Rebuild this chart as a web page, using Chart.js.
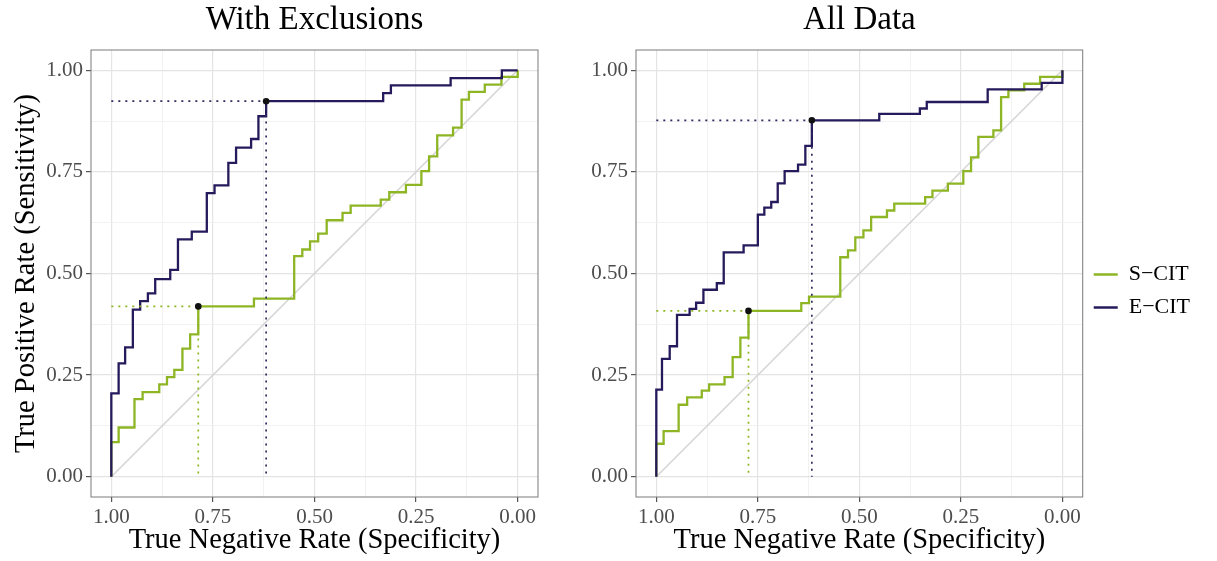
<!DOCTYPE html>
<html>
<head>
<meta charset="utf-8">
<script src="https://cdn.jsdelivr.net/npm/chart.js@4.4.1/dist/chart.umd.min.js"></script>
<style>
    body { margin: 0; background: #fff; width: 1217px; height: 561px; overflow: hidden; position: relative; }
    canvas { position: absolute; top: 0; }
</style>
</head>
<body>
<canvas id="leftChart" width="580" height="561" style="left:0"></canvas>
<canvas id="rightChart" width="652" height="561" style="left:565px"></canvas>
<script>
// ROC points (specificity, sensitivity)
const exclSpecS = [1, 0.982, 0.943, 0.923, 0.882, 0.863, 0.845, 0.825, 0.806, 0.786, 0.649, 0.550, 0.530, 0.511, 0.491, 0.470, 0.431, 0.411, 0.337, 0.316, 0.275, 0.237, 0.218, 0.198, 0.159, 0.138, 0.120, 0.081, 0.040, 0, 0];
const exclSensS = [0, 0.085, 0.121, 0.191, 0.208, 0.227, 0.245, 0.263, 0.315, 0.350, 0.419, 0.438, 0.543, 0.559, 0.579, 0.598, 0.631, 0.649, 0.667, 0.682, 0.700, 0.718, 0.752, 0.788, 0.840, 0.859, 0.928, 0.947, 0.965, 0.984, 1];
const exclSpecE = [1, 0.982, 0.966, 0.947, 0.929, 0.910, 0.892, 0.855, 0.836, 0.802, 0.765, 0.746, 0.712, 0.693, 0.656, 0.638, 0.619, 0.331, 0.312, 0.165, 0.039, 0];
const exclSensE = [0, 0.205, 0.279, 0.318, 0.411, 0.432, 0.451, 0.486, 0.509, 0.584, 0.603, 0.698, 0.717, 0.772, 0.810, 0.831, 0.887, 0.924, 0.944, 0.963, 0.981, 1];

const allSpecS = [1, 0.982, 0.945, 0.924, 0.888, 0.870, 0.832, 0.812, 0.793, 0.773, 0.643, 0.624, 0.547, 0.528, 0.510, 0.490, 0.471, 0.432, 0.414, 0.338, 0.320, 0.282, 0.244, 0.225, 0.207, 0.170, 0.151, 0.133, 0.094, 0.055, 0, 0];
const allSensS = [0, 0.081, 0.112, 0.177, 0.195, 0.212, 0.227, 0.245, 0.294, 0.342, 0.408, 0.427, 0.443, 0.540, 0.557, 0.589, 0.606, 0.639, 0.655, 0.672, 0.688, 0.704, 0.721, 0.752, 0.786, 0.836, 0.852, 0.934, 0.951, 0.967, 0.984, 1];
const allSpecE = [1, 0.986, 0.967, 0.949, 0.918, 0.902, 0.884, 0.851, 0.834, 0.785, 0.750, 0.734, 0.717, 0.701, 0.684, 0.651, 0.633, 0.617, 0.451, 0.351, 0.334, 0.184, 0.051, 0, 0];
const allSensE = [0, 0.214, 0.290, 0.321, 0.398, 0.413, 0.428, 0.460, 0.476, 0.552, 0.569, 0.645, 0.662, 0.676, 0.722, 0.752, 0.768, 0.814, 0.877, 0.893, 0.906, 0.922, 0.953, 0.969, 1];

// best thresholds [specificity, sensitivity]
const exclCutS = [0.786, 0.419];
const exclCutE = [0.619, 0.924];
const allCutS = [0.773, 0.408];
const allCutE = [0.617, 0.877];

const seriesNames = ['S\u2212CIT', 'E\u2212CIT'];
const tickValues = [1, 0.75, 0.5, 0.25, 0];
const tickLabels = ['1.00', '0.75', '0.50', '0.25', '0.00'];
const gridSteps = [0, 0.125, 0.25, 0.375, 0.5, 0.625, 0.75, 0.875, 1];

const GREEN = '#8db524';
const NAVY = '#261a5c';
const SERIF = '"Liberation Serif", "Times New Roman", serif';

function pts(xs, ys) {
    return xs.map(function (x, i) { return { x: x, y: ys[i] }; });
}
function cutLine(c) {
    return [{ x: 1, y: c[1] }, { x: c[0], y: c[1] }, { x: c[0], y: 0 }];
}
function isMajor(v) {
    return tickValues.indexOf(v) >= 0;
}

const panelBorder = {
    id: 'panelBorder',
    afterDatasetsDraw(chart) {
        const a = chart.chartArea, ctx = chart.ctx;
        ctx.save();
        ctx.strokeStyle = '#7a7a7a';
        ctx.lineWidth = 1;
        ctx.strokeRect(a.left, a.top, a.right - a.left, a.bottom - a.top);
        ctx.restore();
    }
};

function axis(extra) {
    const cfg = {
        type: 'linear',
        min: -0.05,
        max: 1.05,
        afterBuildTicks: function (s) { s.ticks = gridSteps.map(function (v) { return { value: v }; }); },
        border: { display: false },
        grid: {
            color: function (c) { return c.tick && isMajor(c.tick.value) ? '#e4e4e4' : '#efefef'; },
            lineWidth: function (c) { return c.tick && isMajor(c.tick.value) ? 1.2 : 0.8; },
            tickColor: function (c) { return c.tick && isMajor(c.tick.value) ? '#555' : 'rgba(0,0,0,0)'; },
            tickLength: 5
        },
        ticks: {
            autoSkip: false,
            maxRotation: 0,
            color: '#4d4d4d',
            font: { family: SERIF, size: 21 },
            callback: function (v) {
                const i = tickValues.indexOf(v);
                return i >= 0 ? tickLabels[i] : '';
            }
        }
    };
    return Object.assign(cfg, extra);
}

function makeChart(id, title, specS, sensS, specE, sensE, cutS, cutE, side) {
    const ctx = document.getElementById(id).getContext('2d');
    const left = side === 'left';
    return new Chart(ctx, {
        type: 'scatter',
        data: {
            datasets: [
                { label: 'diag', data: [{ x: 1, y: 0 }, { x: 0, y: 1 }], showLine: true, borderColor: '#d4d4d4', borderWidth: 1.5, pointRadius: 0, order: 10 },
                { label: seriesNames[0], data: pts(specS, sensS), showLine: true, stepped: 'after', borderColor: GREEN, backgroundColor: GREEN, borderWidth: 2.3, pointRadius: 0, order: 5 },
                { label: seriesNames[1], data: pts(specE, sensE), showLine: true, stepped: 'after', borderColor: NAVY, backgroundColor: NAVY, borderWidth: 2.3, pointRadius: 0, order: 4 },
                { label: 'cutS', data: cutLine(cutS), showLine: true, borderColor: GREEN, borderWidth: 1.7, borderDash: [2, 5], pointRadius: 0, order: 3 },
                { label: 'cutE', data: cutLine(cutE), showLine: true, borderColor: '#2f2a5e', borderWidth: 1.7, borderDash: [2, 5], pointRadius: 0, order: 3 },
                { label: 'cut', data: [{ x: cutS[0], y: cutS[1] }, { x: cutE[0], y: cutE[1] }], pointRadius: 3.3, pointBackgroundColor: '#111', pointBorderWidth: 0, order: 0 }
            ]
        },
        options: {
            responsive: false,
            animation: false,
            layout: { padding: left ? { left: 0, right: 42, top: 0, bottom: 0 } : { left: 0, right: 17, top: 0, bottom: 0 } },
            scales: {
                x: axis({
                    reverse: true,
                    afterFit: function (s) { s.height = 64; },
                    title: { display: true, text: 'True Negative Rate (Specificity)', color: '#000', font: { family: SERIF, size: 28.5 }, padding: { top: 0, bottom: 3 } }
                }),
                y: axis({
                    afterFit: function (s) { s.width = left ? 91 : 71; },
                    title: { display: left, text: 'True Positive Rate (Sensitivity)', color: '#000', font: { family: SERIF, size: 28.5 }, padding: { top: 9, bottom: 0 } }
                })
            },
            plugins: {
                title: { display: true, text: title, fullSize: false, color: '#000', font: { family: SERIF, size: 33, weight: 'normal' }, padding: { top: 1, bottom: 9.4 } },
                legend: {
                    display: !left,
                    position: 'right',
                    title: { display: true, text: '', font: { size: 10 }, padding: { top: 4, bottom: 5 } },
                    labels: {
                        filter: function (item) { return seriesNames.indexOf(item.text) >= 0; },
                        sort: function (a, b) { return a.datasetIndex - b.datasetIndex; },
                        usePointStyle: true,
                        pointStyle: 'line',
                        pointStyleWidth: 24,
                        padding: 11,
                        color: '#000',
                        font: { family: SERIF, size: 22 }
                    }
                },
                tooltip: { enabled: false }
            }
        },
        plugins: [panelBorder]
    });
}

makeChart('leftChart', 'With Exclusions', exclSpecS, exclSensS, exclSpecE, exclSensE, exclCutS, exclCutE, 'left');
makeChart('rightChart', 'All Data', allSpecS, allSensS, allSpecE, allSensE, allCutS, allCutE, 'right');
</script>
</body>
</html>
